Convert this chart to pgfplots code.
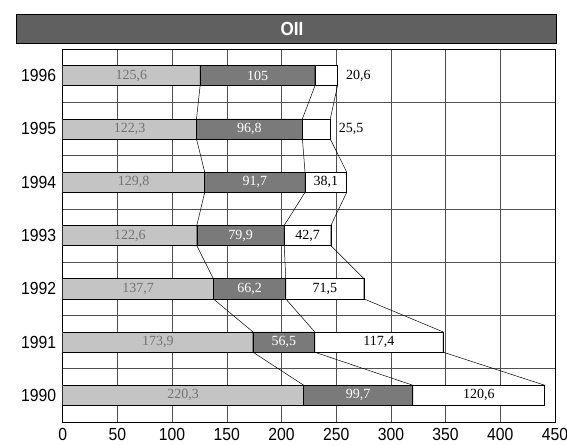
\documentclass[border=0pt]{standalone}
\usepackage{pgfplots}
\usepackage{pgfplotstable}
\pgfplotsset{compat=1.18}
\usepackage{fontspec}
\setmainfont{Liberation Serif}
\newfontfamily\narrowsans[FakeStretch=0.9]{Liberation Sans}

\definecolor{lightbar}{HTML}{C4C4C4}
\definecolor{darkbar}{HTML}{7A7A7A}
\definecolor{bannerfill}{HTML}{606060}
\definecolor{gridgray}{HTML}{505050}

% oil volumes per year: three stacked components
\pgfplotstableread{
pos light dark white llab dlab wlab
0 220.3 99.7 120.6 220,3 99,7 120,6
1 173.9 56.5 117.4 173,9 56,5 117,4
2 137.7 66.2 71.5 137,7 66,2 71,5
3 122.6 79.9 42.7 122,6 79,9 42,7
4 129.8 91.7 38.1 129,8 91,7 38,1
5 122.3 96.8 25.5 122,3 96,8 25,5
6 125.6 105 20.6 125,6 105 20,6
}\oil

% the same values at the upper and lower edge of every bar, for the series lines
\pgfplotstableread{
ypos light dark white
6.19 125.6 105 20.6
5.81 125.6 105 20.6
5.19 122.3 96.8 25.5
4.81 122.3 96.8 25.5
4.19 129.8 91.7 38.1
3.81 129.8 91.7 38.1
3.19 122.6 79.9 42.7
2.81 122.6 79.9 42.7
2.19 137.7 66.2 71.5
1.81 137.7 66.2 71.5
1.19 173.9 56.5 117.4
0.81 173.9 56.5 117.4
0.19 220.3 99.7 120.6
-0.19 220.3 99.7 120.6
}\links

\pgfplotsset{
  oilframe/.style={
    at={(62.7pt,24pt)}, anchor=south west,
    scale only axis, width=492.3pt, height=373pt,
    xmin=0, xmax=450, ymin=-0.5, ymax=6.5,
  },
  vallabel/.style={
    sharp plot, draw=none, mark=none,
    point meta=explicit symbolic, nodes near coords,
    nodes near coords style={anchor=center, font=\fontsize{14}{14}\selectfont, #1},
  },
}

\begin{document}
\begin{tikzpicture}[x=1pt,y=1pt]
\useasboundingbox (0,0) rectangle (567,446);

% title banner
\fill[bannerfill] (16,403) rectangle (556,432);
\draw[black,line width=0.8pt] (16,403) rectangle (556,432);
\node[text=white,font=\narrowsans\bfseries\fontsize{19}{20}\selectfont] at (292,417.5) {OII};

% stacked bars with grid and ticks
\begin{axis}[
  oilframe,
  xbar stacked, bar width=0.38,
  xtick={0,50,...,450},
  ytick={0,1,2,3,4,5,6},
  yticklabels={1990,1991,1992,1993,1994,1995,1996},
  minor ytick={0.5,1.5,2.5,3.5,4.5,5.5},
  xmajorgrids, yminorgrids, ymajorgrids=false,
  major grid style={gridgray,line width=0.6pt},
  minor grid style={gridgray,line width=0.6pt},
  major tick length=0pt, minor tick length=0pt,
  axis line style={black,line width=0.9pt},
  tick label style={font=\narrowsans\fontsize{17.5}{18}\selectfont},
  /pgf/number format/assume math mode=true,
  xticklabel style={yshift=-3pt},
  yticklabel style={xshift=-3pt},
]
\addplot[fill=lightbar, draw=black, line width=0.6pt] table[x=light, y=pos] {\oil};
\addplot[fill=darkbar, draw=black, line width=0.6pt] table[x=dark, y=pos] {\oil};
\addplot[fill=white, draw=black, line width=0.6pt] table[x=white, y=pos] {\oil};
\end{axis}

% series lines and value labels on the same frame
\begin{axis}[oilframe, hide axis, clip=false]
\addplot[sharp plot, black, line width=0.5pt, mark=none]
  table[x=light, y=ypos] {\links};
\addplot[sharp plot, black, line width=0.5pt, mark=none]
  table[x expr=\thisrow{light}+\thisrow{dark}, y=ypos] {\links};
\addplot[sharp plot, black, line width=0.5pt, mark=none]
  table[x expr=\thisrow{light}+\thisrow{dark}+\thisrow{white}, y=ypos] {\links};

\addplot[vallabel={text=black!55}]
  table[x expr=\thisrow{light}/2, y=pos, meta=llab] {\oil};
\addplot[vallabel={text=white}]
  table[x expr=\thisrow{light}+\thisrow{dark}/2, y=pos, meta=dlab] {\oil};
\addplot[vallabel={text=black}, skip coords between index={5}{7}]
  table[x expr=\thisrow{light}+\thisrow{dark}+\thisrow{white}/2, y=pos, meta=wlab] {\oil};
\addplot[vallabel={text=black, anchor=west, xshift=5pt}, skip coords between index={0}{5}]
  table[x expr=\thisrow{light}+\thisrow{dark}+\thisrow{white}, y=pos, meta=wlab] {\oil};
\end{axis}
\end{tikzpicture}
\end{document}
